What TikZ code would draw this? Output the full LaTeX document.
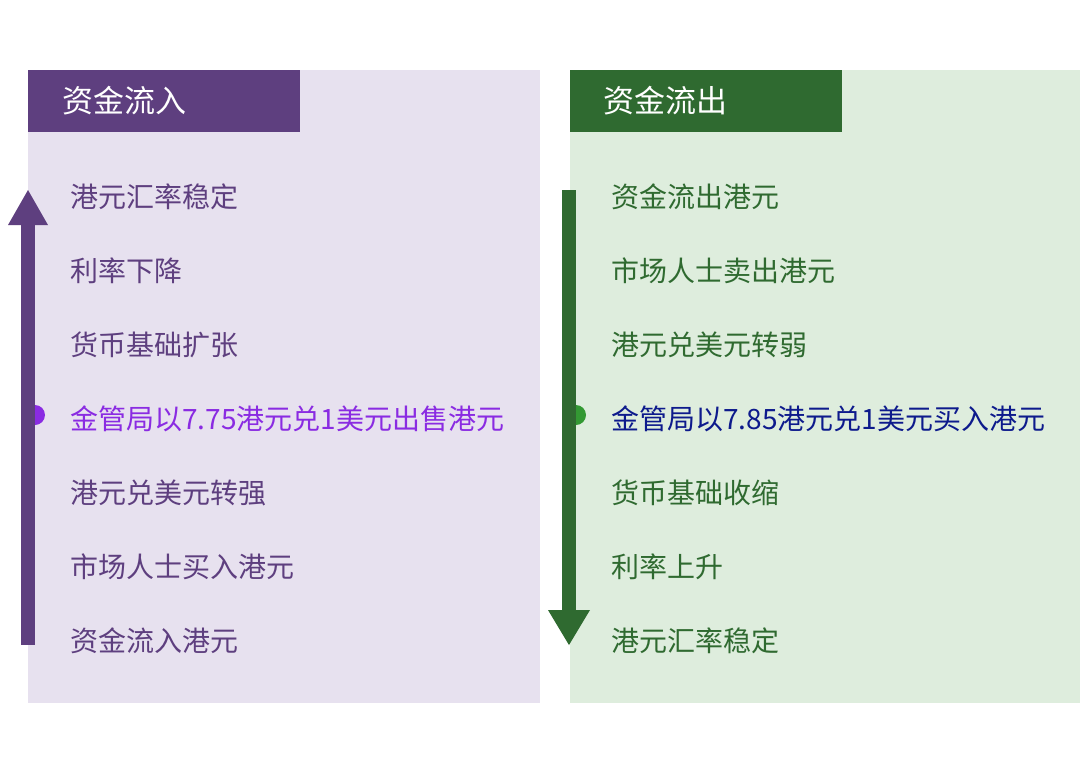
\documentclass[tikz,border=0pt]{standalone}
\usepackage{fontspec}
\setmainfont{Noto Sans CJK SC}
\begin{document}
\begin{tikzpicture}[x=1pt,y=-1pt,
  txt/.style={anchor=west,inner sep=0pt,font=\fontsize{28}{32}\selectfont},
  hdr/.style={anchor=west,inner sep=0pt,text=white,font=\fontsize{31}{34}\selectfont}]
\definecolor{lbg}{HTML}{E7E1EF}\definecolor{lhd}{HTML}{5E3F7F}
\definecolor{rbg}{HTML}{DEEDDD}\definecolor{rhd}{HTML}{2F6A30}
\definecolor{lhi}{HTML}{8A2BE2}\definecolor{rhi}{HTML}{0D1A8C}
\useasboundingbox[fill=white] (0,0) rectangle (1080,769);
\fill[lbg] (28,70) rectangle (540,703);
\fill[lhd] (28,70) rectangle (300,132);
\fill[rbg] (570,70) rectangle (1080,703);
\fill[rhd] (570,70) rectangle (842,132);
\node[hdr] (lh) at (62,101) {资金流入};
\node[hdr] (rh) at (603,101) {资金流出};
\fill[lhi] (35,415) circle (10);
\fill[lhd] (21,224) rectangle (35,645);
\fill[lhd] (8,225) -- (28,190) -- (48,225) -- cycle;
\fill[green!50!black!80] (576,415) circle (10);
\fill[rhd] (562,190) rectangle (576,612);
\fill[rhd] (548,610) -- (569,645) -- (590,610) -- cycle;
\foreach \t [count=\i] in {港元汇率稳定,利率下降,货币基础扩张,X,港元兑美元转强,市场人士买入港元,资金流入港元}{
  \ifnum\i=4 \node[txt,text=lhi] (l\i) at (70,{197+74*(\i-1)}) {金管局以7.75港元兑1美元出售港元};
  \else \node[txt,text=lhd] (l\i) at (70,{197+74*(\i-1)}) {\t};\fi}
\foreach \t [count=\i] in {资金流出港元,市场人士卖出港元,港元兑美元转弱,X,货币基础收缩,利率上升,港元汇率稳定}{
  \ifnum\i=4 \node[txt,text=rhi] (r\i) at (611,{197+74*(\i-1)}) {金管局以7.85港元兑1美元买入港元};
  \else \node[txt,text=rhd] (r\i) at (611,{197+74*(\i-1)}) {\t};\fi}
\end{tikzpicture}
\end{document}
